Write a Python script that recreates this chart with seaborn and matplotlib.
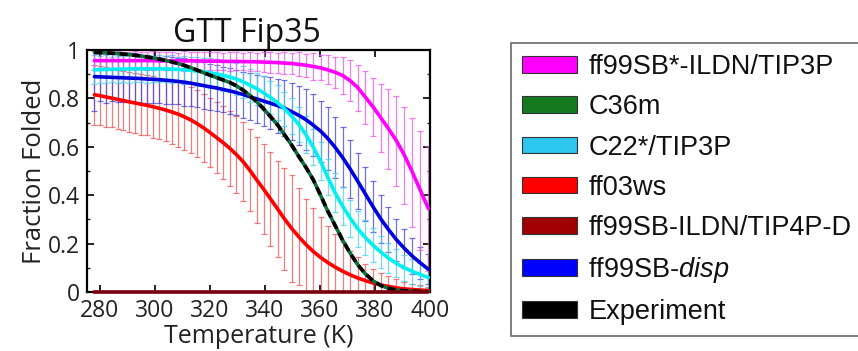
import numpy as np
import pandas as pd
import matplotlib
matplotlib.use("Agg")
import matplotlib.pyplot as plt
import seaborn as sns
from matplotlib.patches import Patch
from matplotlib.ticker import MultipleLocator, FixedLocator, FixedFormatter

# ---------------- data ----------------
temperature = [278.0, 280.1, 282.2, 284.3, 286.4, 288.5, 290.6, 292.8, 295.0, 297.2,
               299.4, 301.6, 303.9, 306.1, 308.4, 310.7, 313.0, 315.3, 317.7, 320.0,
               322.4, 324.8, 327.2, 329.6, 332.1, 334.5, 337.0, 339.5, 342.0, 344.6,
               347.1, 349.7, 352.3, 354.9, 357.5, 360.2, 362.8, 365.5, 368.2, 371.0,
               373.7, 376.5, 379.3, 382.1, 384.9, 387.8, 390.7, 393.6, 396.5, 399.4]

ff99sbstar_mean = [0.956, 0.956, 0.956, 0.956, 0.956, 0.956, 0.956, 0.956, 0.956, 0.956,
                   0.956, 0.955, 0.955, 0.955, 0.955, 0.955, 0.955, 0.955, 0.954, 0.954,
                   0.954, 0.953, 0.953, 0.953, 0.952, 0.952, 0.951, 0.950, 0.949, 0.948,
                   0.946, 0.944, 0.941, 0.937, 0.932, 0.926, 0.918, 0.908, 0.895, 0.873,
                   0.845, 0.805, 0.765, 0.720, 0.675, 0.625, 0.565, 0.495, 0.420, 0.345]
ff99sbstar_err = [0.040, 0.035, 0.038, 0.034, 0.040, 0.036, 0.035, 0.039, 0.034, 0.037,
                  0.040, 0.035, 0.038, 0.036, 0.034, 0.040, 0.037, 0.035, 0.039, 0.036,
                  0.038, 0.035, 0.040, 0.037, 0.036, 0.039, 0.038, 0.040, 0.042, 0.041,
                  0.044, 0.045, 0.050, 0.048, 0.055, 0.052, 0.060, 0.065, 0.075, 0.085,
                  0.095, 0.110, 0.120, 0.140, 0.165, 0.185, 0.200, 0.225, 0.245, 0.260]

c36m_mean = [0.990, 0.989, 0.988, 0.987, 0.985, 0.983, 0.981, 0.978, 0.975, 0.971,
             0.967, 0.962, 0.957, 0.951, 0.944, 0.936, 0.927, 0.917, 0.906, 0.896,
             0.886, 0.876, 0.866, 0.852, 0.834, 0.812, 0.786, 0.757, 0.725, 0.690,
             0.650, 0.607, 0.560, 0.515, 0.465, 0.400, 0.335, 0.275, 0.215, 0.160,
             0.113, 0.075, 0.046, 0.027, 0.015, 0.008, 0.005, 0.003, 0.002, 0.001]

c22star_mean = [0.918, 0.919, 0.920, 0.920, 0.921, 0.921, 0.922, 0.922, 0.922, 0.922,
                0.922, 0.922, 0.922, 0.921, 0.920, 0.918, 0.916, 0.913, 0.910, 0.906,
                0.901, 0.895, 0.888, 0.880, 0.868, 0.855, 0.840, 0.823, 0.804, 0.782,
                0.757, 0.727, 0.692, 0.650, 0.600, 0.540, 0.475, 0.410, 0.355, 0.305,
                0.262, 0.225, 0.193, 0.165, 0.140, 0.118, 0.100, 0.085, 0.072, 0.060]
c22star_err = [0.060, 0.055, 0.058, 0.052, 0.056, 0.054, 0.057, 0.053, 0.055, 0.058,
               0.054, 0.056, 0.055, 0.057, 0.053, 0.058, 0.056, 0.060, 0.058, 0.062,
               0.060, 0.064, 0.062, 0.066, 0.065, 0.068, 0.066, 0.070, 0.068, 0.072,
               0.070, 0.074, 0.072, 0.076, 0.075, 0.078, 0.076, 0.080, 0.078, 0.076,
               0.074, 0.072, 0.070, 0.066, 0.062, 0.058, 0.054, 0.050, 0.046, 0.042]

ff03ws_mean = [0.815, 0.811, 0.806, 0.801, 0.796, 0.791, 0.786, 0.781, 0.776, 0.771,
               0.765, 0.759, 0.752, 0.744, 0.735, 0.724, 0.711, 0.696, 0.678, 0.659,
               0.638, 0.617, 0.594, 0.568, 0.538, 0.503, 0.463, 0.425, 0.385, 0.343,
               0.302, 0.263, 0.228, 0.196, 0.168, 0.143, 0.122, 0.103, 0.086, 0.071,
               0.058, 0.047, 0.037, 0.029, 0.023, 0.017, 0.013, 0.010, 0.008, 0.006]
ff03ws_err = [0.125, 0.122, 0.124, 0.120, 0.123, 0.121, 0.125, 0.122, 0.126, 0.124,
              0.128, 0.127, 0.130, 0.132, 0.134, 0.136, 0.138, 0.140, 0.142, 0.144,
              0.146, 0.150, 0.154, 0.158, 0.164, 0.170, 0.178, 0.186, 0.194, 0.200,
              0.210, 0.220, 0.200, 0.190, 0.180, 0.165, 0.150, 0.135, 0.120, 0.100,
              0.085, 0.070, 0.060, 0.050, 0.042, 0.036, 0.030, 0.025, 0.020, 0.016]

tip4pd_mean = [0.0] * 50

disp_mean = [0.890, 0.889, 0.888, 0.887, 0.886, 0.885, 0.884, 0.883, 0.882, 0.880,
             0.879, 0.877, 0.875, 0.873, 0.870, 0.867, 0.863, 0.858, 0.853, 0.848,
             0.843, 0.837, 0.831, 0.824, 0.816, 0.807, 0.798, 0.789, 0.780, 0.770,
             0.760, 0.745, 0.730, 0.712, 0.690, 0.665, 0.635, 0.598, 0.556, 0.508,
             0.458, 0.405, 0.352, 0.302, 0.258, 0.216, 0.180, 0.148, 0.120, 0.094]
disp_err = [0.140, 0.100, 0.105, 0.098, 0.102, 0.100, 0.097, 0.103, 0.099, 0.101,
            0.098, 0.096, 0.100, 0.097, 0.095, 0.099, 0.096, 0.094, 0.098, 0.095,
            0.097, 0.094, 0.096, 0.093, 0.095, 0.098, 0.100, 0.105, 0.108, 0.112,
            0.115, 0.118, 0.122, 0.125, 0.128, 0.126, 0.130, 0.127, 0.124, 0.120,
            0.115, 0.110, 0.105, 0.098, 0.092, 0.086, 0.080, 0.074, 0.068, 0.062]

experiment_mean = [0.990, 0.989, 0.988, 0.987, 0.985, 0.983, 0.981, 0.978, 0.975, 0.971,
                   0.967, 0.962, 0.957, 0.951, 0.944, 0.936, 0.927, 0.917, 0.906, 0.896,
                   0.886, 0.876, 0.866, 0.852, 0.834, 0.812, 0.786, 0.757, 0.725, 0.690,
                   0.650, 0.607, 0.560, 0.515, 0.465, 0.400, 0.335, 0.275, 0.215, 0.160,
                   0.113, 0.075, 0.046, 0.027, 0.015, 0.008, 0.005, 0.003, 0.002, 0.001]

legend_labels = ["ff99SB*-ILDN/TIP3P", "C36m", "C22*/TIP3P", "ff03ws",
                 "ff99SB-ILDN/TIP4P-D", "ff99SB-$\\mathit{disp}$", "Experiment"]
legend_colors = ["#ff00ff", "#137a20", "#2cc6ee", "#ff0000", "#a00000", "#0000ff", "#000000"]

x_ticks = [280, 300, 320, 340, 360, 380, 400]
y_ticks = [0, 0.2, 0.4, 0.6, 0.8, 1]
y_tick_labels = ["0", "0.2", "0.4", "0.6", "0.8", "1"]

# ---------------- style ----------------
sns.set_theme(style="ticks")
plt.rcParams["font.family"] = ["Open Sans", "DejaVu Sans"]
plt.rcParams["mathtext.fontset"] = "custom"
plt.rcParams["mathtext.it"] = "Liberation Sans:italic"
plt.rcParams["mathtext.rm"] = "Liberation Sans"

fig = plt.figure(figsize=(8.58, 3.51), dpi=100)
ax = fig.add_axes([87 / 858, 1 - 292 / 351, 343 / 858, 242 / 351])

T = np.array(temperature)

# error bars (lighter, behind lines)
err_series = [
    (ff03ws_mean, ff03ws_err, "#f05050"),
    (disp_mean, disp_err, "#4040d8"),
    (c22star_mean, c22star_err, "#40d0f0"),
    (ff99sbstar_mean, ff99sbstar_err, "#f050f0"),
]
for mean, err, col in err_series:
    ax.errorbar(T, mean, yerr=err, fmt="none", ecolor=col, elinewidth=0.9,
                capsize=2.2, capthick=0.9, alpha=0.75, zorder=1)

# mean lines through seaborn
line_series = [
    (ff03ws_mean, "#ff0000"),
    (disp_mean, "#0000dd"),
    (c22star_mean, "#00f0f0"),
    (ff99sbstar_mean, "#ff00ff"),
    (c36m_mean, "#0e6e3c"),
]
for i, (mean, col) in enumerate(line_series):
    sns.lineplot(x=T, y=mean, color=col, linewidth=2.6, ax=ax, errorbar=None,
                 zorder=3 + i)
sns.lineplot(x=T, y=experiment_mean, color="black", linewidth=2.6, ax=ax,
             errorbar=None, linestyle=(0, (2.2, 1.3)), zorder=9)
sns.lineplot(x=T, y=tip4pd_mean, color="#7a0010", linewidth=2.6, ax=ax,
             errorbar=None, zorder=10, clip_on=False)

# axes cosmetics
ax.set_xlim(275.3, 400)
ax.set_ylim(0, 1)
ax.xaxis.set_major_locator(FixedLocator(x_ticks))
ax.yaxis.set_major_locator(FixedLocator(y_ticks))
ax.yaxis.set_major_formatter(FixedFormatter(y_tick_labels))
ax.yaxis.set_minor_locator(MultipleLocator(0.1))
ax.tick_params(axis="both", which="major", direction="in", length=5, width=1.3,
               top=True, right=True, labelsize=16.5, colors="#111111",
               labelcolor="#222222")
ax.tick_params(axis="x", which="major", pad=5)
ax.tick_params(axis="y", which="major", pad=5)
ax.tick_params(axis="y", which="minor", direction="in", length=2.5, width=1.0,
               left=True, right=True)
for s in ax.spines.values():
    s.set_linewidth(1.6)
    s.set_color("black")
ax.set_xlabel("Temperature (K)", fontsize=18, labelpad=1, color="#222222")
ax.set_ylabel("Fraction Folded", fontsize=18.5, labelpad=1, color="#222222")
ax.set_title("GTT Fip35", fontsize=23, x=0.465, pad=6, color="#111111")

# legend
handles = [Patch(facecolor=c, edgecolor="#333333", linewidth=0.8) for c in legend_colors]
leg = fig.legend(handles, legend_labels, loc="upper left",
                 bbox_to_anchor=(511 / 858, 1 - 43 / 351), borderaxespad=0,
                 frameon=True, fancybox=False, edgecolor="#444444",
                 prop={"family": "Liberation Sans", "size": 19.5},
                 handlelength=2.0, handleheight=0.58, handletextpad=0.44,
                 labelspacing=0.52, borderpad=0.42)
leg.get_frame().set_linewidth(1.2)
for t in leg.get_texts():
    t.set_color("#111111")

fig.savefig("out.png", dpi=100)
